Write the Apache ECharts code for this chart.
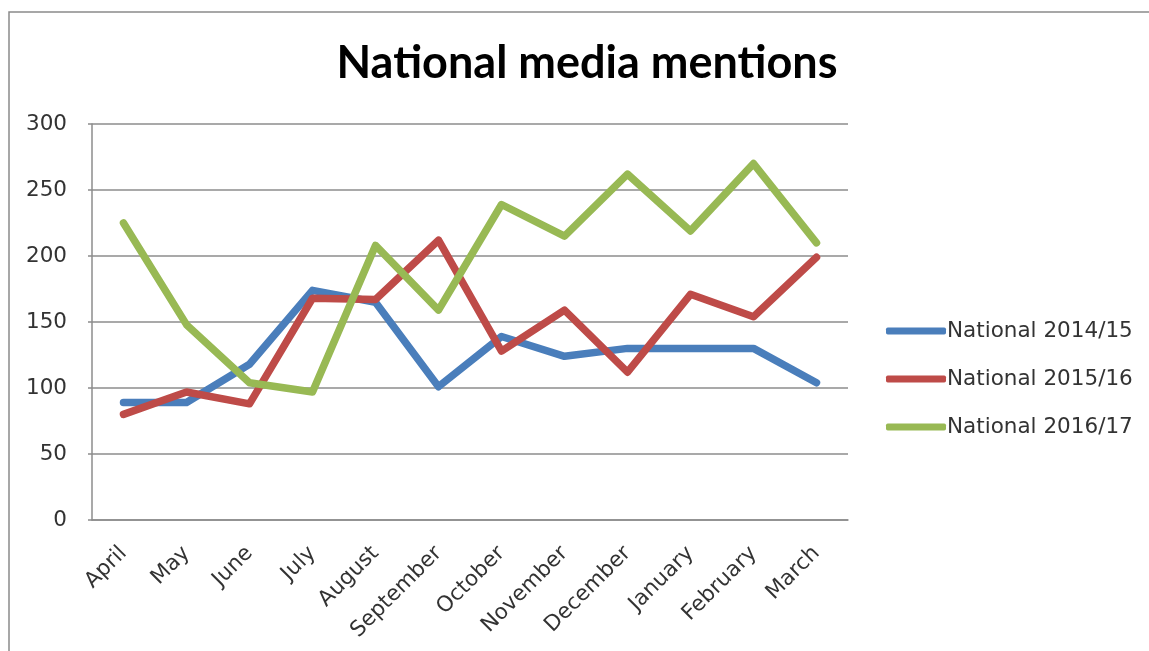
<!DOCTYPE html>
<html>
<head>
<meta charset="utf-8">
<script src="https://cdn.jsdelivr.net/npm/echarts@6/dist/echarts.min.js"></script>
<style>
html,body{margin:0;padding:0;background:#fff;}
#chart{width:1149px;height:651px;}
</style>
</head>
<body>
<div id="chart"></div>
<script>
const categories = ['April','May','June','July','August','September','October','November','December','January','February','March'];
const seriesNames = ['National 2014/15','National 2015/16','National 2016/17'];
const national1415 = [89, 89, 118, 174, 165, 101, 139, 124, 130, 130, 130, 104];
const national1516 = [80, 97, 88, 168, 167, 212, 128, 159, 112, 171, 154, 199];
const national1617 = [225, 148, 104, 97, 208, 159, 239, 215, 262, 219, 270, 210];
const yTicks = {min: 0, max: 300, interval: 50};
const colors = ['#4A7EBB', '#BE4B48', '#98B954'];

const chart = echarts.init(document.getElementById('chart'), null, {renderer: 'canvas'});
const labelFont = 'DejaVu Sans, Verdana, sans-serif';
function mk(name, data, color) {
  return {
    name: name, type: 'line', data: data, symbol: 'none', smooth: false,
    lineStyle: {color: color, width: 7.5, cap: 'round', join: 'round'},
    itemStyle: {color: color}
  };
}
chart.setOption({
  animation: false,
  backgroundColor: '#fff',
  title: {
    text: 'National media mentions',
    left: 582, top: 36, textAlign: 'center',
    textStyle: {fontFamily: 'Lato, sans-serif', fontWeight: 'bold', fontSize: 45, color: '#000'}
  },
  graphic: [{
    type: 'rect', shape: {x: 9, y: 12, width: 1200, height: 700},
    style: {fill: 'none', stroke: '#8a8a8a', lineWidth: 1.5}, silent: true, z: 100
  }],
  grid: {left: 92, right: 301, top: 124, bottom: 131, containLabel: false},
  legend: {
    orient: 'vertical', left: 886, top: 320, itemGap: 26, padding: 0,
    icon: 'roundRect', itemWidth: 60, itemHeight: 7,
    data: seriesNames,
    textStyle: {fontFamily: labelFont, fontSize: 21.5, color: '#333', padding: [0, 0, 0, -4]}
  },
  xAxis: {
    type: 'category', data: categories, boundaryGap: true,
    axisLine: {lineStyle: {color: '#8c8c8c', width: 1.5}},
    axisTick: {show: false},
    axisLabel: {rotate: 45, margin: 30, interval: 0, fontFamily: labelFont, fontSize: 21.5, color: '#333'}
  },
  yAxis: {
    type: 'value', min: yTicks.min, max: yTicks.max, interval: yTicks.interval,
    axisLine: {show: true, lineStyle: {color: '#8c8c8c', width: 1.5}},
    axisTick: {show: true, length: 4, lineStyle: {color: '#8c8c8c', width: 1.5}},
    axisLabel: {margin: 25, fontFamily: labelFont, fontSize: 21.5, color: '#333'},
    splitLine: {lineStyle: {color: '#8c8c8c', width: 1.5}}
  },
  series: [
    mk(seriesNames[0], national1415, colors[0]),
    mk(seriesNames[1], national1516, colors[1]),
    mk(seriesNames[2], national1617, colors[2])
  ]
});
</script>
</body>
</html>
